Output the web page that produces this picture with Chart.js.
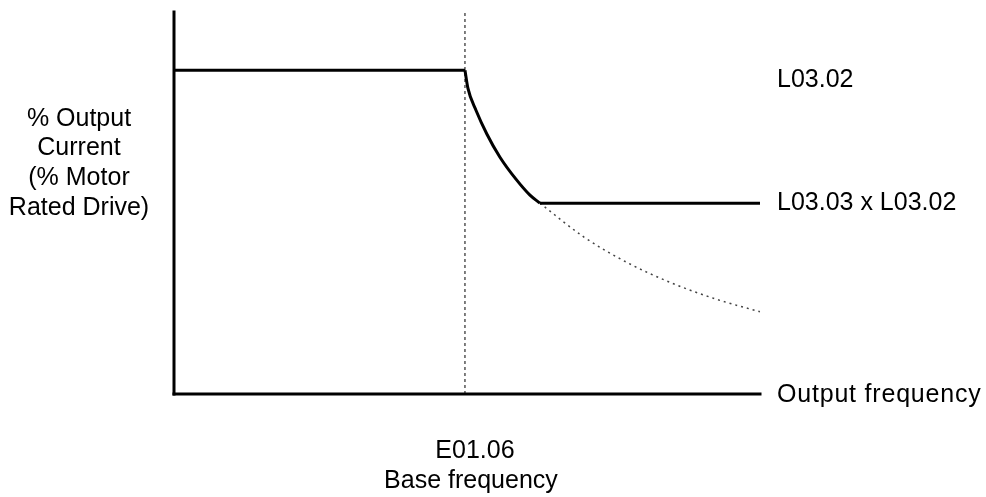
<!DOCTYPE html>
<html>
<head>
<meta charset="utf-8">
<script src="https://cdn.jsdelivr.net/npm/chart.js@4/dist/chart.umd.min.js"></script>
<style>
  html, body { margin: 0; padding: 0; background: #fff; }
  canvas { display: block; }
</style>
</head>
<body>
<canvas id="grafico" width="986" height="497"></canvas>
<script>
// frequency as multiple of base frequency, current in % of rated
const xMax = 2.014;
const yMax = 118;

const flatFreq = [0, 1];
const flatCurrent = [100, 100];

const taperFreq = [1.0, 1.0103, 1.0378, 1.0756, 1.1203, 1.1753, 1.2234, 1.2577];
const taperCurrent = [100, 94.4, 87.65, 80.25, 73.15, 66.36, 61.42, 58.95];

const floorFreq = [1.2577, 2.014];
const floorCurrent = [58.95, 58.95];

const dottedFreq = [1.2577, 1.4089, 1.5601, 1.7113, 1.8625, 2.0137];
const dottedCurrent = [58.95, 48.49, 40.49, 34.26, 29.32, 25.4];

const baseFreq = 1;
const limitLabel = "L03.02";
const floorLabel = "L03.03 x L03.02";
const xLabel = "Output frequency";
const yLabel = ["% Output", "Current", "(% Motor", "Rated Drive)"];
const baseLabel = ["E01.06", "Base frequency"];

function pts(xs, ys) {
  return xs.map((x, i) => ({ x: x, y: ys[i] }));
}

function linha(data, extra) {
  return Object.assign({
    data: data,
    borderColor: "#000",
    borderWidth: 3,
    pointRadius: 0,
    showLine: true,
    fill: false,
    clip: false
  }, extra || {});
}

// textos
const textos = {
  id: "textos",
  afterDraw(chart) {
    const ctx = chart.ctx;
    const x = chart.scales.x;
    const y = chart.scales.y;
    ctx.save();
    ctx.fillStyle = "#000";
    ctx.font = "25px 'Liberation Sans', Arial, sans-serif";
    ctx.textBaseline = "middle";

    ctx.textAlign = "left";
    const xr = x.getPixelForValue(xMax) + 17;
    ctx.fillText(limitLabel, xr, y.getPixelForValue(100) + 10);
    ctx.fillText(floorLabel, xr, y.getPixelForValue(floorCurrent[0]));
    ctx.letterSpacing = "0.8px";
    ctx.fillText(xLabel, xr, y.getPixelForValue(0) + 1);
    ctx.letterSpacing = "0px";

    ctx.textAlign = "center";
    const yc = y.getPixelForValue(71.3);
    yLabel.forEach((t, i) => {
      ctx.fillText(t, 79, yc + (i - 1.5) * 29.7);
    });

    const xb = x.getPixelForValue(baseFreq);
    const yb = y.getPixelForValue(0);
    ctx.fillText(baseLabel[0], xb + 10, yb + 57);
    ctx.fillText(baseLabel[1], xb + 6, yb + 87);
    ctx.restore();
  }
};

new Chart(document.getElementById("grafico"), {
  type: "scatter",
  data: {
    datasets: [
      linha(pts([0, 0], [0, yMax]), { borderCapStyle: "square" }),
      linha(pts([0, xMax], [0, 0]), { borderCapStyle: "square" }),
      linha(pts([baseFreq, baseFreq], [0, yMax]), { borderWidth: 1, borderDash: [3, 3] }),
      linha(pts(flatFreq, flatCurrent)),
      linha(pts(taperFreq, taperCurrent), { cubicInterpolationMode: "monotone" }),
      linha(pts(floorFreq, floorCurrent)),
      linha(pts(dottedFreq, dottedCurrent), {
        borderColor: "#444",
        borderWidth: 1.5,
        borderDash: [2, 4],
        cubicInterpolationMode: "monotone"
      })
    ]
  },
  options: {
    responsive: false,
    animation: false,
    devicePixelRatio: 1,
    layout: { padding: { left: 174, right: 226, top: 12, bottom: 103 } },
    scales: {
      x: { type: "linear", min: 0, max: xMax, display: false },
      y: { type: "linear", min: 0, max: yMax, display: false }
    },
    plugins: {
      legend: { display: false },
      tooltip: { enabled: false }
    }
  },
  plugins: [textos]
});
</script>
</body>
</html>
